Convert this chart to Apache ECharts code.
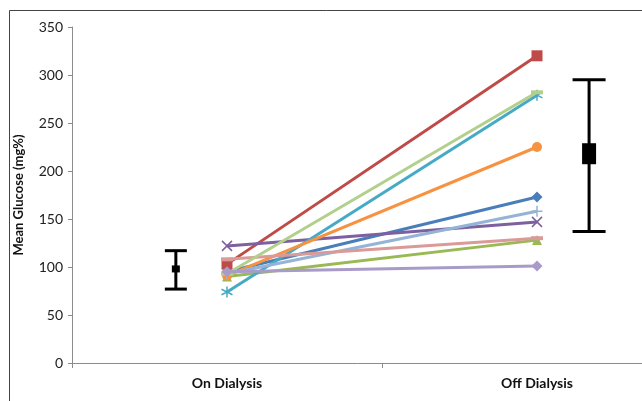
<!DOCTYPE html>
<html>
<head>
<meta charset="utf-8">
<script src="https://cdn.jsdelivr.net/npm/echarts@6/dist/echarts.min.js"></script>
<style>
  html, body { margin: 0; padding: 0; background: #fff; }
  #main { width: 642px; height: 401px; }
</style>
</head>
<body>
<div id="main"></div>
<script>
// categories and tick labels
var categories = ['On Dialysis', 'Off Dialysis'];
var yTicks = [0, 50, 100, 150, 200, 250, 300, 350];

// each patient: [on dialysis, off dialysis]
var patient1 = [95, 173];
var patient2 = [103, 320];
var patient3 = [90, 128];
var patient4 = [122, 147];
var patient5 = [74, 279];
var patient6 = [91, 225];
var patient7 = [93, 158];
var patient8 = [108, 130];
var patient9 = [93, 282];
var patient10 = [95, 101];

// mean with range: [x position, mean, low, high]
var errOn = [0.335, 98, 77, 117];
var errOff = [1.668, 218, 137, 295];

var xPath = 'path://M0,0L10,10M10,0L0,10';
var starPath = 'path://M5,0L5,10M0,2.5L10,7.5M10,2.5L0,7.5';
var plusPath = 'path://M5,0L5,10M0,5L10,5';

var lines = [
  { d: patient1, c: '#4A7EBB', s: 'diamond', sz: 11 },
  { d: patient2, c: '#BE4B48', s: 'rect', sz: 11 },
  { d: patient3, c: '#98B954', s: 'triangle', sz: 10 },
  { d: patient4, c: '#7D60A0', s: xPath, sz: 10, stroke: true },
  { d: patient5, c: '#46AAC5', s: starPath, sz: 11, stroke: true },
  { d: patient6, c: '#F69240', s: 'circle', sz: 10 },
  { d: patient7, c: '#95B3D7', s: plusPath, sz: 11, stroke: true },
  { d: patient8, c: '#DA9A98', s: 'rect', sz: [12, 4] },
  { d: patient9, c: '#B2D08C', s: 'rect', sz: [12, 4] },
  { d: patient10, c: '#A99BC9', s: 'diamond', sz: 11 }
];

var series = lines.map(function (l, i) {
  return {
    name: 'Patient ' + (i + 1),
    type: 'line',
    data: l.d,
    symbol: l.s,
    symbolSize: l.sz,
    showAllSymbol: true,
    lineStyle: { color: l.c, width: 3 },
    itemStyle: l.stroke
      ? { color: l.c, borderColor: l.c, borderWidth: 1.5 }
      : { color: l.c, borderWidth: 0 },
    emphasis: { disabled: true },
    z: 2 + i
  };
});

var barLook = [
  { cap: 22, w: 8, h: 7 },
  { cap: 33, w: 14, h: 21 }
];

series.push({
  type: 'custom',
  xAxisIndex: 1,
  yAxisIndex: 0,
  data: [errOn, errOff],
  encode: { x: 0, y: 1 },
  z: 20,
  renderItem: function (params, api) {
    var look = barLook[params.dataIndex];
    var x = api.value(0);
    var mid = api.coord([x, api.value(1)]);
    var lo = api.coord([x, api.value(2)]);
    var hi = api.coord([x, api.value(3)]);
    var st = { stroke: '#000', lineWidth: 3, fill: null };
    return {
      type: 'group',
      children: [
        { type: 'line', shape: { x1: mid[0], y1: hi[1], x2: mid[0], y2: lo[1] }, style: st },
        { type: 'line', shape: { x1: mid[0] - look.cap / 2, y1: hi[1], x2: mid[0] + look.cap / 2, y2: hi[1] }, style: st },
        { type: 'line', shape: { x1: mid[0] - look.cap / 2, y1: lo[1], x2: mid[0] + look.cap / 2, y2: lo[1] }, style: st },
        { type: 'rect', shape: { x: mid[0] - look.w / 2, y: mid[1] - look.h / 2, width: look.w, height: look.h }, style: { fill: '#000' } }
      ]
    };
  }
});

var chart = echarts.init(document.getElementById('main'));
chart.setOption({
  animation: false,
  backgroundColor: '#fff',
  textStyle: { fontFamily: 'Lato' },
  grid: { left: 72, top: 27, width: 620, height: 336, containLabel: false, outerBoundsMode: 'none' },
  graphic: [{
    type: 'rect',
    shape: { x: 9.5, y: 10.5, width: 700, height: 420 },
    style: { fill: null, stroke: '#444', lineWidth: 1 },
    silent: true
  }],
  xAxis: [{
    type: 'category',
    data: categories,
    boundaryGap: true,
    axisLine: { lineStyle: { color: '#8c8c8c', width: 1 } },
    axisTick: { show: true, length: 5, lineStyle: { color: '#8c8c8c' } },
    axisLabel: { color: '#111', fontSize: 14, fontWeight: 'bold', margin: 13 }
  }, {
    type: 'value',
    min: 0,
    max: 2,
    show: false
  }],
  yAxis: {
    type: 'value',
    min: yTicks[0],
    max: yTicks[yTicks.length - 1],
    interval: 50,
    name: 'Mean Glucose (mg%)',
    nameLocation: 'middle',
    nameGap: 47,
    nameTextStyle: { color: '#111', fontSize: 13, fontWeight: 'bold' },
    splitLine: { show: false },
    axisLine: { show: true, lineStyle: { color: '#8c8c8c', width: 1 } },
    axisTick: { show: true, length: 4, lineStyle: { color: '#8c8c8c' } },
    axisLabel: { color: '#222', fontSize: 14, margin: 9 }
  },
  series: series
});
</script>
</body>
</html>
